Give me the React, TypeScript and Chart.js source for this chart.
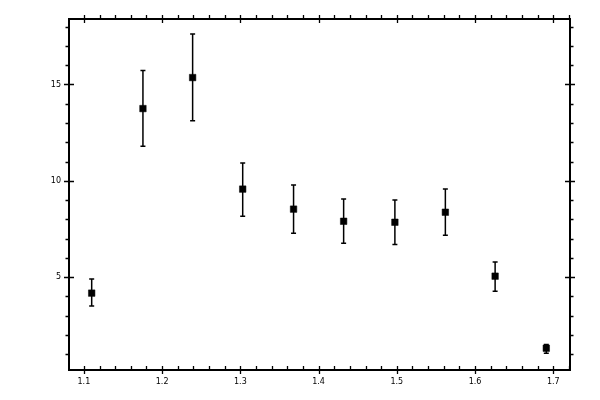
import React, { useEffect, useRef } from "react";
import { Chart, registerables } from "chart.js";

Chart.register(...registerables);

const xValues = [1.11, 1.1755, 1.239, 1.303, 1.368, 1.432, 1.4975, 1.562, 1.6256, 1.691];
const yValues = [4.17, 13.75, 15.36, 9.57, 8.53, 7.9, 7.85, 8.37, 5.05, 1.31];
const yHigh = [4.9, 15.73, 17.62, 10.92, 9.78, 9.05, 9.0, 9.57, 5.78, 1.5];
const yLow = [3.5, 11.79, 13.12, 8.16, 7.28, 6.76, 6.7, 7.17, 4.27, 1.05];

const xTicks = [1.1, 1.2, 1.3, 1.4, 1.5, 1.6, 1.7];
const yTicks = [5, 10, 15];
const xMinorStep = 0.02;
const yMinorStep = 1;

const X_MIN = 1.081;
const X_MAX = 1.7213;
const Y_MIN = 0.18;
const Y_MAX = 18.4;

const errorBars = {
  id: "errorBars",
  beforeDatasetsDraw(chart: any) {
    const { ctx, scales } = chart;
    ctx.save();
    ctx.strokeStyle = "#000";
    ctx.lineWidth = 1.5;
    xValues.forEach((xv, i) => {
      const px = scales.x.getPixelForValue(xv);
      const top = scales.y.getPixelForValue(yHigh[i]);
      const bot = scales.y.getPixelForValue(yLow[i]);
      ctx.beginPath();
      ctx.moveTo(px, top);
      ctx.lineTo(px, bot);
      ctx.moveTo(px - 2.5, top);
      ctx.lineTo(px + 2.5, top);
      ctx.moveTo(px - 2.5, bot);
      ctx.lineTo(px + 2.5, bot);
      ctx.stroke();
    });
    ctx.restore();
  },
};

const frame = {
  id: "frame",
  afterDraw(chart: any) {
    const { ctx, chartArea, scales } = chart;
    const { left, right, top, bottom } = chartArea;
    ctx.save();
    ctx.strokeStyle = "#000";
    ctx.lineWidth = 2;
    ctx.strokeRect(left, top, right - left, bottom - top);
    ctx.lineWidth = 1.3;
    ctx.beginPath();
    // minor x ticks
    for (let v = Math.ceil(X_MIN / xMinorStep) * xMinorStep; v <= X_MAX; v += xMinorStep) {
      const px = Math.round(scales.x.getPixelForValue(v)) + 0.5;
      ctx.moveTo(px, top);
      ctx.lineTo(px, top - 4);
      ctx.moveTo(px, bottom);
      ctx.lineTo(px, bottom - 4);
    }
    // minor y ticks
    for (let v = Math.ceil(Y_MIN / yMinorStep) * yMinorStep; v <= Y_MAX; v += yMinorStep) {
      const py = Math.round(scales.y.getPixelForValue(v)) + 0.5;
      ctx.moveTo(left, py);
      ctx.lineTo(left - 3.5, py);
      ctx.moveTo(right, py);
      ctx.lineTo(right + 3.5, py);
    }
    // major ticks cross the frame
    xTicks.forEach((v) => {
      const px = Math.round(scales.x.getPixelForValue(v)) + 0.5;
      ctx.moveTo(px, top - 4);
      ctx.lineTo(px, top + 4);
      ctx.moveTo(px, bottom - 4);
      ctx.lineTo(px, bottom + 4);
    });
    yTicks.forEach((v) => {
      const py = Math.round(scales.y.getPixelForValue(v)) + 0.5;
      ctx.moveTo(left - 5, py);
      ctx.lineTo(left + 5, py);
      ctx.moveTo(right - 5, py);
      ctx.lineTo(right + 5, py);
    });
    ctx.stroke();
    ctx.restore();
  },
};

const App = () => {
  const ref = useRef<HTMLCanvasElement>(null!);

  useEffect(() => {
    document.body.style.margin = "0";
    const tickFont = { family: "DejaVu Sans", size: 8 };
    const chart = new Chart(ref.current, {
      type: "scatter",
      data: {
        datasets: [
          {
            data: xValues.map((x, i) => ({ x, y: yValues[i] })),
            pointStyle: "rect",
            pointRadius: 4.6,
            pointBorderWidth: 0.5,
            backgroundColor: "#000",
            borderColor: "#000",
          },
        ],
      },
      options: {
        responsive: false,
        animation: false,
        devicePixelRatio: 1,
        layout: { padding: { top: 19, right: 30, left: 0, bottom: 0 } },
        plugins: {
          legend: { display: false },
          tooltip: { enabled: false },
        },
        scales: {
          x: {
            type: "linear",
            min: X_MIN,
            max: X_MAX,
            afterBuildTicks: (scale: any) => {
              scale.ticks = xTicks.map((value) => ({ value }));
            },
            afterFit: (scale: any) => {
              scale.height = 30;
            },
            grid: { display: false, drawTicks: false },
            border: { display: false },
            ticks: {
              color: "#000",
              font: tickFont,
              padding: 7,
              maxRotation: 0,
              callback: (v: any) => Number(v).toFixed(1),
            },
          },
          y: {
            type: "linear",
            min: Y_MIN,
            max: Y_MAX,
            afterBuildTicks: (scale: any) => {
              scale.ticks = yTicks.map((value) => ({ value }));
            },
            afterFit: (scale: any) => {
              scale.width = 69;
            },
            grid: { display: false, drawTicks: false },
            border: { display: false },
            ticks: {
              color: "#000",
              font: tickFont,
              padding: 8,
              callback: (v: any) => String(v),
            },
          },
        },
      },
      plugins: [errorBars, frame],
    } as any);
    return () => {
      chart.destroy();
    };
  }, []);

  return (
    <div style={{ width: 600, height: 400, background: "#fff" }}>
      <canvas ref={ref} width={600} height={400} />
    </div>
  );
};

export default App;
